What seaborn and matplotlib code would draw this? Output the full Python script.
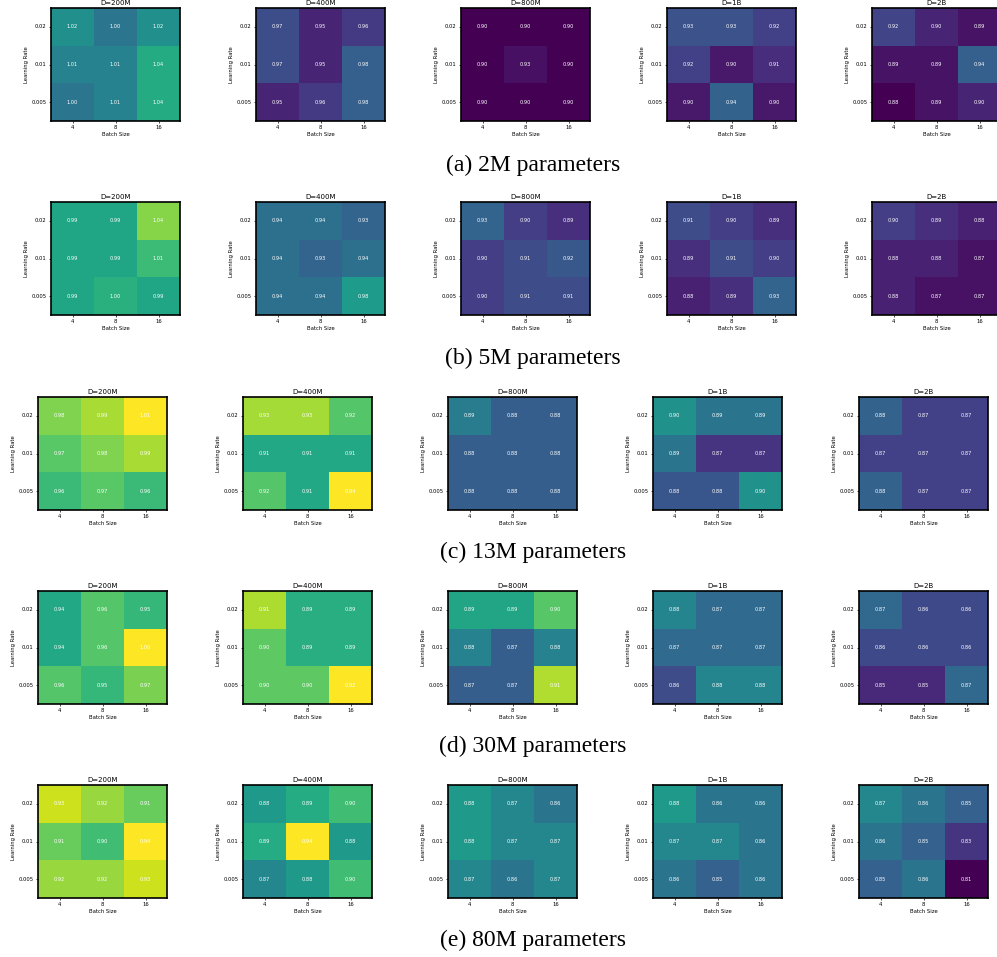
import numpy as np
import pandas as pd
import matplotlib
matplotlib.use('Agg')
import matplotlib.pyplot as plt
import seaborn as sns

learning_rates = ['0.02', '0.01', '0.005']
batch_sizes = ['4', '8', '16']
data_sizes = ['200M', '400M', '800M', '1B', '2B']
captions = ['(a) 2M parameters', '(b) 5M parameters', '(c) 13M parameters',
            '(d) 30M parameters', '(e) 80M parameters']

# values per model size: one 3x3 grid (rows = lr, cols = batch) per data size
vals_2m = [
    [[1.02, 1.00, 1.02], [1.01, 1.01, 1.04], [1.00, 1.01, 1.04]],
    [[0.97, 0.95, 0.96], [0.97, 0.95, 0.98], [0.95, 0.96, 0.98]],
    [[0.90, 0.90, 0.90], [0.90, 0.93, 0.90], [0.90, 0.90, 0.90]],
    [[0.93, 0.93, 0.92], [0.92, 0.90, 0.91], [0.90, 0.94, 0.90]],
    [[0.92, 0.90, 0.89], [0.89, 0.89, 0.94], [0.88, 0.89, 0.90]],
]
vals_5m = [
    [[0.99, 0.99, 1.04], [0.99, 0.99, 1.01], [0.99, 1.00, 0.99]],
    [[0.94, 0.94, 0.93], [0.94, 0.93, 0.94], [0.94, 0.94, 0.98]],
    [[0.93, 0.90, 0.89], [0.90, 0.91, 0.92], [0.90, 0.91, 0.91]],
    [[0.91, 0.90, 0.89], [0.89, 0.91, 0.90], [0.88, 0.89, 0.93]],
    [[0.90, 0.89, 0.88], [0.88, 0.88, 0.87], [0.88, 0.87, 0.87]],
]
vals_13m = [
    [[0.98, 0.99, 1.01], [0.97, 0.98, 0.99], [0.96, 0.97, 0.96]],
    [[0.93, 0.93, 0.92], [0.91, 0.91, 0.91], [0.92, 0.91, 0.94]],
    [[0.89, 0.88, 0.88], [0.88, 0.88, 0.88], [0.88, 0.88, 0.88]],
    [[0.90, 0.89, 0.89], [0.89, 0.87, 0.87], [0.88, 0.88, 0.90]],
    [[0.88, 0.87, 0.87], [0.87, 0.87, 0.87], [0.88, 0.87, 0.87]],
]
vals_30m = [
    [[0.94, 0.96, 0.95], [0.94, 0.96, 1.00], [0.96, 0.95, 0.97]],
    [[0.91, 0.89, 0.89], [0.90, 0.89, 0.89], [0.90, 0.90, 0.92]],
    [[0.89, 0.89, 0.90], [0.88, 0.87, 0.88], [0.87, 0.87, 0.91]],
    [[0.88, 0.87, 0.87], [0.87, 0.87, 0.87], [0.86, 0.88, 0.88]],
    [[0.87, 0.86, 0.86], [0.86, 0.86, 0.86], [0.85, 0.85, 0.87]],
]
vals_80m = [
    [[0.93, 0.92, 0.91], [0.91, 0.90, 0.94], [0.92, 0.92, 0.93]],
    [[0.88, 0.89, 0.90], [0.89, 0.94, 0.88], [0.87, 0.88, 0.90]],
    [[0.88, 0.87, 0.86], [0.88, 0.87, 0.87], [0.87, 0.86, 0.87]],
    [[0.88, 0.86, 0.86], [0.87, 0.87, 0.86], [0.86, 0.85, 0.86]],
    [[0.87, 0.86, 0.85], [0.86, 0.85, 0.83], [0.85, 0.86, 0.81]],
]
all_vals = [vals_2m, vals_5m, vals_13m, vals_30m, vals_80m]

# colour range of each panel
clims = [
    [(0.93, 1.11), (0.935, 1.085), (0.90, 1.60), (0.89, 1.05), (0.88, 1.08)],
    [(0.86, 1.08)] * 5,
    [(0.855, 1.01), (0.865, 0.94), (0.855, 0.94), (0.857, 0.943), (0.855, 0.935)],
    [(0.85, 1.00), (0.84, 0.92), (0.85, 0.918), (0.84, 0.928), (0.84, 0.93)],
    [(0.81, 0.94)] * 5,
]

W, H = 997, 957
fig = plt.figure(figsize=(W / 100, H / 100), dpi=100)

row_tops = [8, 202, 397, 591, 785]
lefts_ab = [51, 256, 461, 667, 872]
lefts_cde = [38, 243, 448, 653, 859]
ax_w, ax_h = 129, 113
caption_y = [165, 358, 552, 746, 940]

for r in range(5):
    lefts = lefts_ab if r < 2 else lefts_cde
    for c in range(5):
        x0 = lefts[c]
        y0 = row_tops[r]
        ax = fig.add_axes([x0 / W, 1 - (y0 + ax_h) / H, ax_w / W, ax_h / H])
        df = pd.DataFrame(all_vals[r][c], index=learning_rates, columns=batch_sizes)
        vmin, vmax = clims[r][c]
        sns.heatmap(df, ax=ax, cmap='viridis', vmin=vmin, vmax=vmax, cbar=False,
                    annot=True, fmt='.2f',
                    annot_kws={'fontsize': 3.6, 'color': 'white'})
        ax.set_title(f'D={data_sizes[c]}', fontsize=5, pad=2.5)
        ax.set_xlabel('Batch Size', fontsize=3.8, labelpad=1.5)
        ax.set_ylabel('Learning Rate', fontsize=3.8, labelpad=2)
        ax.tick_params(axis='both', labelsize=3.8, length=1.5, width=0.5, pad=1.5)
        plt.setp(ax.get_yticklabels(), rotation=0)
        for s in ax.spines.values():
            s.set_visible(True)
            s.set_color('black')
            s.set_linewidth(1.2)

    fig.text(533 / W, 1 - caption_y[r] / H, captions[r], ha='center', va='center',
             fontsize=17, family='Liberation Serif')

fig.savefig('out.png', dpi=100)
plt.close(fig)
